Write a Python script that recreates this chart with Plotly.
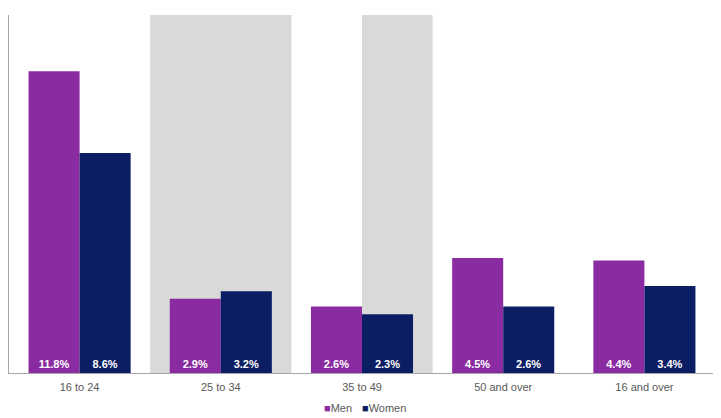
import plotly.graph_objects as go

categories = ["16 to 24", "25 to 34", "35 to 49", "50 and over", "16 and over"]
men = [11.8, 2.9, 2.6, 4.5, 4.4]
women = [8.6, 3.2, 2.3, 2.6, 3.4]

# highlighted spans (in category units) drawn as grey bands behind the bars
shade_spans = [(0.5, 1.5), (2.0, 2.5)]

MEN_COLOR = "#8a2ba2"
WOMEN_COLOR = "#0b1e63"
FONT = "Liberation Sans, Arial, sans-serif"

fig = go.Figure()
for name, values, color in [("Men", men, MEN_COLOR), ("Women", women, WOMEN_COLOR)]:
    fig.add_trace(
        go.Bar(
            x=categories,
            y=values,
            name=name,
            marker=dict(color=color, line=dict(width=0)),
            text=[f"{v:.1f}%" for v in values],
            textposition="inside",
            insidetextanchor="start",
            textangle=0,
            textfont=dict(color="white", size=11, family=FONT),
            texttemplate="<b>%{text}</b>",
            hoverinfo="skip",
            showlegend=False,
        )
    )

for x0, x1 in shade_spans:
    fig.add_shape(
        type="rect", xref="x", yref="y", x0=x0, x1=x1, y0=0, y1=14,
        fillcolor="#d9d9d9", line=dict(width=0), layer="below",
    )

# compact legend like the original: small coloured squares before each name
for name, color, xpos in [("Men", MEN_COLOR, 0.443), ("Women", WOMEN_COLOR, 0.497)]:
    fig.add_annotation(
        text=f'<span style="color:{color}">■</span>{name}',
        xref="paper", yref="paper",
        x=xpos, xanchor="left", y=-0.098, yanchor="middle",
        showarrow=False, font=dict(size=11, color="#595959", family=FONT),
    )

# the page body adds 8px around the figure, so the figure is 8px smaller
fig.update_layout(
    width=713,
    height=410,
    margin=dict(l=1, r=6, t=7, b=45),
    plot_bgcolor="white",
    paper_bgcolor="white",
    barmode="group",
    bargap=0.277,
    bargroupgap=0,
    font=dict(family=FONT, size=11, color="#595959"),
    uniformtext=dict(minsize=8, mode="show"),
)
fig.update_xaxes(
    showline=True, linecolor="#a6a6a6", linewidth=1,
    ticks="", ticklabelstandoff=4, showgrid=False,
    tickfont=dict(size=11, color="#595959"),
)
fig.update_yaxes(
    range=[0, 14], showline=True, linecolor="#a6a6a6", linewidth=1,
    showticklabels=False, ticks="", showgrid=False, zeroline=False,
)

fig.write_html("out.html")
